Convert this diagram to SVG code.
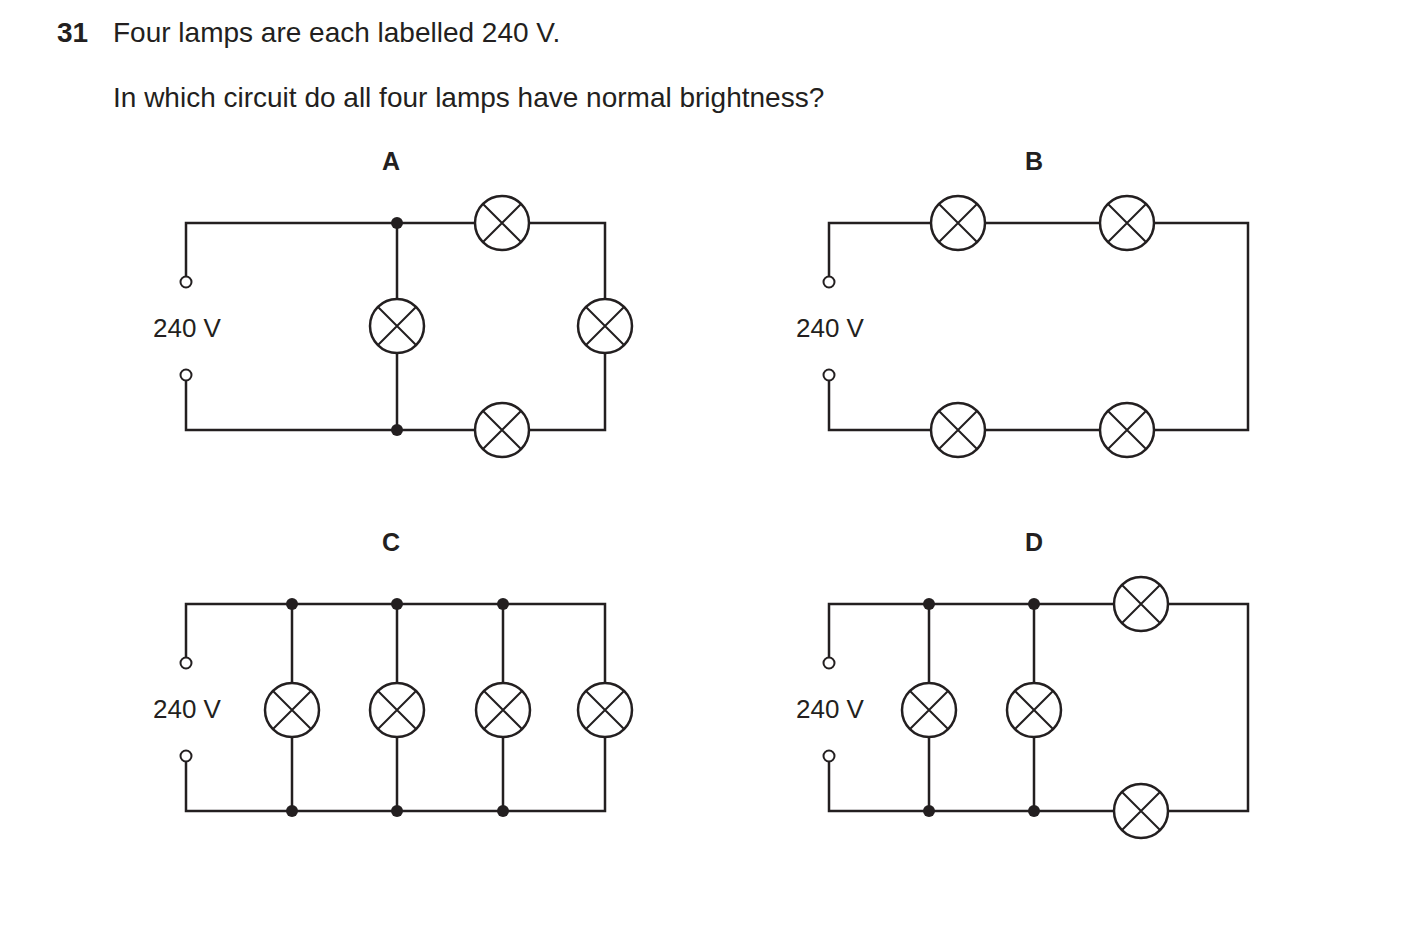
<svg xmlns="http://www.w3.org/2000/svg" xmlns:xlink="http://www.w3.org/1999/xlink" width="1403" height="933" viewBox="0 0 1403 933">
<style>
text{font-family:"Liberation Sans",Arial,sans-serif;fill:#231f20}
.q{font-size:28px}.v{font-size:26px}.lab{font-size:25px;font-weight:bold}
.w{fill:none;stroke:#231f20;stroke-width:2.5}
.t{fill:#fff;stroke:#231f20;stroke-width:2}
.d{fill:#231f20}
</style>
<defs>
<g id="lamp"><circle r="27" fill="#fff" stroke="#231f20" stroke-width="2.5"/><path d="M-19,-19L19,19M19,-19L-19,19" stroke="#231f20" stroke-width="2"/></g>
</defs>
<rect width="1403" height="933" fill="#fff"/>
<text x="57" y="42" class="q" font-weight="bold">31</text>
<text x="113" y="42" class="q">Four lamps are each labelled 240 V.</text>
<text x="113" y="107" class="q">In which circuit do all four lamps have normal brightness?</text>
<text x="391" y="170" class="lab" text-anchor="middle">A</text>
<text x="1034" y="170" class="lab" text-anchor="middle">B</text>
<text x="391" y="551" class="lab" text-anchor="middle">C</text>
<text x="1034" y="551" class="lab" text-anchor="middle">D</text>
<g id="connectors">
<path class="w" d="M186,277V223H605V430H186V381M397,223V430"/>
<path class="w" d="M829,277V223H1248V430H829V381"/>
<path class="w" d="M186,658V604H605V811H186V762M292,604V811M397,604V811M503,604V811"/>
<path class="w" d="M829,658V604H1248V811H829V762M929,604V811M1034,604V811"/>
</g>
<g id="circuitA">
<circle class="t" cx="186" cy="282" r="5.5"/><circle class="t" cx="186" cy="375" r="5.5"/>
<text x="187" y="337" class="v" text-anchor="middle">240 V</text>
<circle class="d" cx="397" cy="223" r="6"/><circle class="d" cx="397" cy="430" r="6"/>
<use href="#lamp" x="397" y="326"/><use href="#lamp" x="502" y="223"/><use href="#lamp" x="605" y="326"/><use href="#lamp" x="502" y="430"/>
</g>
<g id="circuitB">
<circle class="t" cx="829" cy="282" r="5.5"/><circle class="t" cx="829" cy="375" r="5.5"/>
<text x="830" y="337" class="v" text-anchor="middle">240 V</text>
<use href="#lamp" x="958" y="223"/><use href="#lamp" x="1127" y="223"/><use href="#lamp" x="958" y="430"/><use href="#lamp" x="1127" y="430"/>
</g>
<g id="circuitC">
<circle class="t" cx="186" cy="663" r="5.5"/><circle class="t" cx="186" cy="756" r="5.5"/>
<text x="187" y="718" class="v" text-anchor="middle">240 V</text>
<circle class="d" cx="292" cy="604" r="6"/><circle class="d" cx="397" cy="604" r="6"/><circle class="d" cx="503" cy="604" r="6"/>
<circle class="d" cx="292" cy="811" r="6"/><circle class="d" cx="397" cy="811" r="6"/><circle class="d" cx="503" cy="811" r="6"/>
<use href="#lamp" x="292" y="710"/><use href="#lamp" x="397" y="710"/><use href="#lamp" x="503" y="710"/><use href="#lamp" x="605" y="710"/>
</g>
<g id="circuitD">
<circle class="t" cx="829" cy="663" r="5.5"/><circle class="t" cx="829" cy="756" r="5.5"/>
<text x="830" y="718" class="v" text-anchor="middle">240 V</text>
<circle class="d" cx="929" cy="604" r="6"/><circle class="d" cx="1034" cy="604" r="6"/>
<circle class="d" cx="929" cy="811" r="6"/><circle class="d" cx="1034" cy="811" r="6"/>
<use href="#lamp" x="929" y="710"/><use href="#lamp" x="1034" y="710"/><use href="#lamp" x="1141" y="604"/><use href="#lamp" x="1141" y="811"/>
</g>
</svg>
